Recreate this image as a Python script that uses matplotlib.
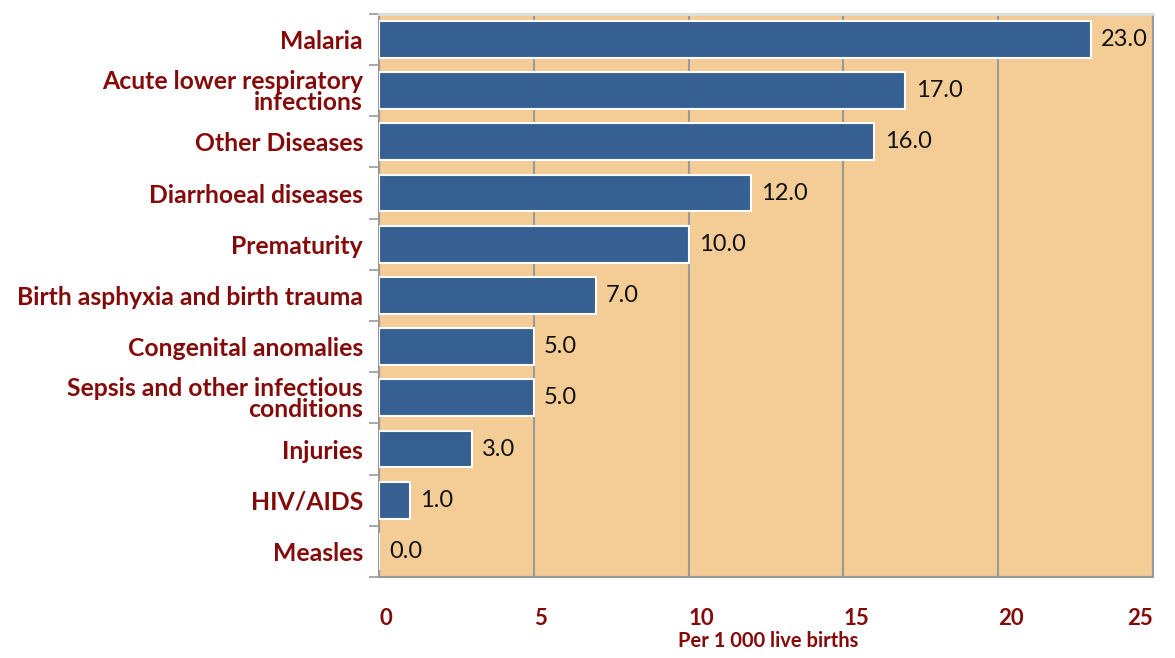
import numpy as np
import matplotlib.pyplot as plt
from matplotlib.ticker import FixedLocator

causes = ['Malaria', 'Acute lower respiratory\ninfections', 'Other Diseases',
          'Diarrhoeal diseases', 'Prematurity', 'Birth asphyxia and birth trauma',
          'Congenital anomalies', 'Sepsis and other infectious\nconditions',
          'Injuries', 'HIV/AIDS', 'Measles']
rates = [23.0, 17.0, 16.0, 12.0, 10.0, 7.0, 5.0, 5.0, 3.0, 1.0, 0.0]
xticks = [0, 5, 10, 15, 20, 25]

red = '#840A0A'
plt.rcParams['font.family'] = ['Lato', 'DejaVu Sans']

fig = plt.figure(figsize=(11.75, 6.58), dpi=100)
ax = fig.add_axes([0.3226, 0.123, 0.6587, 0.856])
ax.set_facecolor('#F3CC96')

y = np.arange(len(causes))
ax.barh(y, rates, height=0.72, color='#366092', edgecolor='white', linewidth=1.5, zorder=3)
for yi, v in zip(y, rates):
    ax.text(v + 0.33, yi, f'{v:.1f}', va='center', ha='left', fontsize=17, color='#111111', zorder=4)

ax.set_xlim(0, 25)
ax.set_ylim(len(causes) - 0.5, -0.5)
ax.set_xticks(xticks)
ax.set_xticklabels([str(t) for t in xticks], fontsize=16, fontweight='bold', color=red)
for i, lab in enumerate(ax.get_xticklabels()):
    lab.set_ha('right' if i == len(xticks) - 1 else 'left')
ax.tick_params(axis='x', length=0, pad=22)
ax.set_xlabel('Per 1 000 live births', fontsize=14.5, fontweight='bold', color=red)
ax.xaxis.label.set_va('center')
ax.xaxis.set_label_coords(0.503, -0.114)

ax.set_yticks(y)
ax.set_yticklabels(causes, fontsize=17.8, fontweight='bold', color=red, linespacing=0.9)
ax.tick_params(axis='y', which='major', length=0, pad=11.5)
ax.yaxis.set_minor_locator(FixedLocator(np.arange(-0.5, len(causes), 1.0)))
ax.tick_params(axis='y', which='minor', length=7, color='#999999', width=1.2)

ax.grid(axis='x', color='#999999', linewidth=1.5, zorder=1)
for s in ['left', 'bottom', 'right']:
    ax.spines[s].set_color('#999999')
    ax.spines[s].set_linewidth(1.5)
ax.spines['top'].set_color('#dddddd')
ax.spines['top'].set_linewidth(2)

fig.savefig('out.png', dpi=100)
